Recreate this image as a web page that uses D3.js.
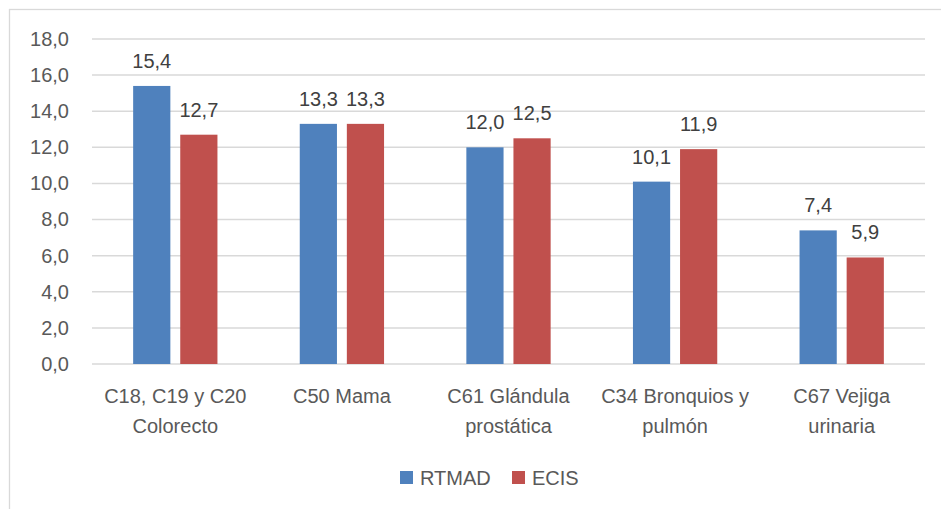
<!DOCTYPE html>
<html>
<head>
<meta charset="utf-8">
<script src="https://cdn.jsdelivr.net/npm/d3@7"></script>
<style>
  body { margin: 0; background: #fff; }
  text { font-family: "Liberation Sans", Arial, sans-serif; }
</style>
</head>
<body>
<div id="chart"></div>
<script>
// categories (split in lines as in the picture) and series values
var categories = ["C18, C19 y C20 Colorecto", "C50 Mama", "C61 Glándula prostática", "C34 Bronquios y pulmón", "C67 Vejiga urinaria"];
var categoryLines = [["C18, C19 y C20", "Colorecto"], ["C50 Mama"], ["C61 Glándula", "prostática"], ["C34 Bronquios y", "pulmón"], ["C67 Vejiga", "urinaria"]];
var seriesNames = ["RTMAD", "ECIS"];
var rtmad = [15.4, 13.3, 12.0, 10.1, 7.4];
var ecis = [12.7, 13.3, 12.5, 11.9, 5.9];
var yTicks = [0, 2, 4, 6, 8, 10, 12, 14, 16, 18];
var colors = {RTMAD: "#4f81bd", ECIS: "#c0504d"};

var W = 941, H = 509;
var plot = {left: 92, right: 925, top: 39, bottom: 364};

var fmt = function(v) { return v.toFixed(1).replace(".", ","); };

var svg = d3.select("#chart").append("svg")
  .attr("width", W).attr("height", H);

// outer frame
svg.append("rect")
  .attr("x", 9.5).attr("y", 9.5)
  .attr("width", W).attr("height", H)
  .attr("fill", "none").attr("stroke", "#d9d9d9").attr("stroke-width", 1.3);

var y = d3.scaleLinear().domain([0, 18]).range([plot.bottom, plot.top]);
var x0 = d3.scaleBand().domain(categories).range([plot.left, plot.right]);
var bw = x0.bandwidth();
var x1 = d3.scaleBand().domain(seriesNames).range([bw * 0.247, bw * 0.753]).paddingInner(0.21);

// gridlines
svg.append("g").selectAll("line")
  .data(yTicks).enter().append("line")
  .attr("x1", plot.left).attr("x2", plot.right)
  .attr("y1", d => y(d)).attr("y2", d => y(d))
  .attr("stroke", "#d9d9d9").attr("stroke-width", 1.5);

// y axis labels
var yAxis = svg.append("g")
  .attr("transform", "translate(" + plot.left + ",0)")
  .call(d3.axisLeft(y).tickValues(yTicks).tickFormat(fmt).tickSize(0).tickPadding(23));
yAxis.select(".domain").remove();
yAxis.selectAll("text").attr("font-size", 20).attr("fill", "#595959")
  .style("font-family", '"Liberation Sans", Arial, sans-serif');

var rows = categories.map(function(c, i) {
  return {cat: c, lines: categoryLines[i], vals: [{s: "RTMAD", v: rtmad[i]}, {s: "ECIS", v: ecis[i]}]};
});

var groups = svg.append("g").selectAll("g")
  .data(rows).enter().append("g")
  .attr("transform", d => "translate(" + x0(d.cat) + ",0)");

groups.selectAll("rect")
  .data(d => d.vals).enter().append("rect")
  .attr("x", d => x1(d.s))
  .attr("y", d => y(d.v))
  .attr("width", x1.bandwidth())
  .attr("height", d => y(0) - y(d.v))
  .attr("fill", d => colors[d.s]);

groups.selectAll("text.val")
  .data(d => d.vals).enter().append("text")
  .attr("class", "val")
  .attr("x", d => x1(d.s) + x1.bandwidth() / 2)
  .attr("y", d => y(d.v) - 18)
  .attr("text-anchor", "middle")
  .attr("font-size", 20).attr("fill", "#404040")
  .text(d => fmt(d.v));

// category labels
groups.each(function(d) {
  var t = d3.select(this).append("text")
    .attr("text-anchor", "middle")
    .attr("font-size", 20).attr("fill", "#595959");
  d.lines.forEach(function(line, k) {
    t.append("tspan").attr("x", bw / 2).attr("y", 403 + k * 29.5).text(line);
  });
});

// legend
var legendX = [400, 512];
var legend = svg.append("g").selectAll("g")
  .data(seriesNames).enter().append("g")
  .attr("transform", (d, i) => "translate(" + legendX[i] + ",471)");
legend.append("rect")
  .attr("width", 13).attr("height", 13)
  .attr("fill", d => colors[d]);
legend.append("text")
  .attr("x", 20).attr("y", 14)
  .attr("font-size", 20).attr("fill", "#595959")
  .text(d => d);
</script>
</body>
</html>
